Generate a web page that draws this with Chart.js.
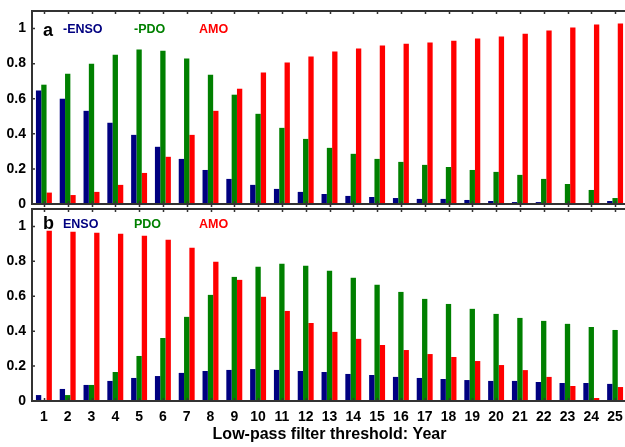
<!DOCTYPE html>
<html><head><meta charset="utf-8">
<script src="https://cdn.jsdelivr.net/npm/chart.js@4"></script>
<style>
html,body{margin:0;padding:0;overflow:hidden;background:#fff;width:625px;height:447px;}
#ca{position:absolute;left:0;top:0;}
#cb{position:absolute;left:0;top:200px;}
</style></head><body>
<canvas id="ca" width="630" height="215"></canvas>
<canvas id="cb" width="630" height="247"></canvas>
<script>
const years = ['1','2','3','4','5','6','7','8','9','10','11','12','13','14','15','16','17','18','19','20','21','22','23','24','25'];

// Panel a
const ensoA = [0.647,0.600,0.531,0.463,0.394,0.326,0.257,0.194,0.143,0.109,0.086,0.069,0.057,0.046,0.040,0.034,0.029,0.029,0.023,0.017,0.011,0.011,0.001,0.004,0.017];
const pdoA  = [0.680,0.743,0.800,0.851,0.880,0.874,0.829,0.737,0.623,0.514,0.434,0.371,0.320,0.286,0.257,0.240,0.223,0.211,0.194,0.183,0.166,0.143,0.114,0.080,0.034];
const amoA  = [0.065,0.051,0.069,0.109,0.177,0.269,0.394,0.531,0.657,0.749,0.806,0.840,0.869,0.886,0.903,0.914,0.920,0.931,0.943,0.954,0.971,0.989,1.006,1.023,1.029];

// Panel b
const ensoB = [0.034,0.069,0.092,0.115,0.132,0.143,0.161,0.172,0.178,0.183,0.178,0.172,0.166,0.155,0.149,0.138,0.132,0.126,0.120,0.115,0.115,0.109,0.103,0.103,0.098];
const pdoB  = [0.006,0.034,0.092,0.166,0.258,0.361,0.482,0.608,0.711,0.769,0.786,0.775,0.746,0.706,0.666,0.625,0.585,0.556,0.528,0.499,0.476,0.459,0.442,0.424,0.407];
const amoB  = [0.975,0.970,0.964,0.958,0.947,0.924,0.878,0.798,0.694,0.597,0.516,0.447,0.396,0.356,0.321,0.292,0.269,0.252,0.229,0.206,0.177,0.138,0.086,0.017,0.080];

const yTickValues = [0, 0.2, 0.4, 0.6, 0.8, 1.0];
const yTickLabels = ['0','0.2','0.4','0.6','0.8','1'];
const namesA = ['-ENSO','-PDO','AMO'];
const namesB = ['ENSO','PDO','AMO'];
const panelLetters = ['a','b'];
const xTitle = 'Low-pass filter threshold: Year';
const colors = ['#000080','#008000','#ff0000'];

const FONT = '"Liberation Sans", Arial, Helvetica, sans-serif';

const framePlugin = {
  id: 'frame',
  afterDatasetsDraw(chart, args, opts) {
    const {ctx, chartArea:{left,right,top,bottom}, scales:{x,y}} = chart;
    ctx.save();
    ctx.strokeStyle = '#333';
    ctx.lineWidth = 2;
    ctx.strokeRect(left, top, right-left, bottom-top);
    ctx.lineWidth = 1.5;
    ctx.beginPath();
    for (let i = 0; i < years.length; i++) {
      const px = Math.round(x.getPixelForValue(i)) + 0.5;
      ctx.moveTo(px, top); ctx.lineTo(px, top + 3);
      ctx.moveTo(px, bottom); ctx.lineTo(px, bottom - 3);
      if (!opts.isBottom) { ctx.moveTo(px, bottom); ctx.lineTo(px, bottom + 3); }
    }
    yTickValues.forEach(v => {
      const py = y.getPixelForValue(v);
      ctx.moveTo(left, py); ctx.lineTo(left + 3, py);
    });
    ctx.stroke();
    ctx.fillStyle = '#000';
    ctx.textBaseline = 'alphabetic';
    ctx.textAlign = 'left';
    ctx.font = 'bold 18px ' + FONT;
    ctx.fillText(opts.letter, 43, top + opts.letterDy);
    ctx.font = 'bold 12.5px ' + FONT;
    const xs = [63, 134, 199];
    opts.names.forEach((n, i) => {
      ctx.fillStyle = colors[i];
      ctx.fillText(n, xs[i], top + opts.nameDy);
    });
    ctx.restore();
  }
};

function makeChart(id, data3, names, letter, isBottom) {
  const datasets = data3.map((d, i) => ({
    data: d, backgroundColor: colors[i], borderWidth: 0,
    categoryPercentage: 0.67, barPercentage: 1.0
  }));
  return new Chart(document.getElementById(id), {
    type: 'bar',
    data: { labels: years, datasets },
    options: {
      responsive: false, animation: false,
      layout: { padding: isBottom ? {top: 9, bottom: 0, left: 0, right: 3} : {top: 11, bottom: 11, left: 0, right: 3} },
      plugins: {
        legend: {display: false}, tooltip: {enabled: false},
        frame: { names, letter, isBottom, letterDy: isBottom ? 20 : 25, nameDy: isBottom ? 19 : 22 }
      },
      scales: {
        x: isBottom ? {
          ticks: {font: {family: FONT, weight: 'bold', size: 14}, color: '#000', padding: 8, maxRotation: 0, autoSkip: false},
          grid: {display: false, drawTicks: false}, border: {display: false},
          title: {display: true, text: xTitle, font: {family: FONT, size: 16, weight: 'bold'}, color: '#000', padding: {top: 0, bottom: 3}},
          afterFit: s => { s.height = 46; s.paddingLeft = 0; s.paddingRight = 0; }
        } : { display: false },
        y: {
          min: 0, max: 1.1,
          afterBuildTicks: s => { s.ticks = yTickValues.map(v => ({value: v})); },
          ticks: {callback: (v, i) => yTickLabels[i], font: {family: FONT, weight: 'bold', size: 14}, color: '#000', padding: 6},
          grid: {display: false, drawTicks: false}, border: {display: false},
          afterFit: s => { s.width = 32; s.paddingTop = 0; s.paddingBottom = 0; }
        }
      }
    },
    plugins: [framePlugin]
  });
}

makeChart('ca', [ensoA, pdoA, amoA], namesA, panelLetters[0], false);
makeChart('cb', [ensoB, pdoB, amoB], namesB, panelLetters[1], true);
</script>
</body></html>
